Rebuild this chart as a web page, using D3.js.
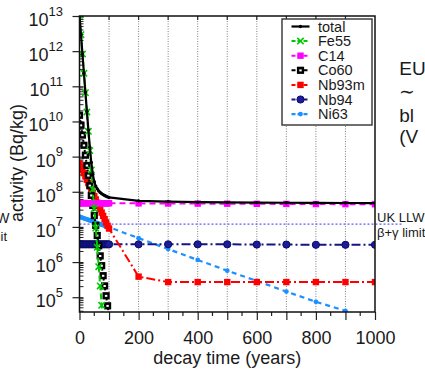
<!DOCTYPE html>
<html>
<head>
<meta charset="utf-8">
<script src="https://cdn.jsdelivr.net/npm/d3@7"></script>
<style>
  body { margin: 0; background: #fff; }
  svg { display: block; font-family: "Liberation Sans", Arial, Helvetica, sans-serif; }
</style>
</head>
<body>
<div id="chart"></div>
<script>
// decay times (years)
const years = [0, 5, 10, 15, 20, 25, 30, 35, 40, 45, 50, 55, 60, 65, 70, 75, 80, 85, 90, 95, 100,
  200, 300, 400, 500, 600, 700, 800, 900, 1000];

// activities (Bq/kg)
const total = [1.05e13, 2.96e12, 8.35e11, 2.36e11, 6.74e10, 1.94e10, 5.78e9, 1.84e9, 6.77e8, 3.16e8, 1.94e8,
  1.45e8, 1.21e8, 1.06e8, 9.59e7, 8.85e7, 8.28e7, 7.82e7, 7.45e7, 7.14e7, 6.92e7,
  5.52e7, 5.23e7, 5.07e7, 4.98e7, 4.92e7, 4.87e7, 4.82e7, 4.79e7, 4.76e7];
const fe55 = [1.05e13, 2.95e12, 8.3e11, 2.34e11, 6.6e10, 1.86e10, 5.25e9, 1.48e9, 4.17e8, 1.17e8, 3.3e7,
  9.3e6, 2.63e6, 7.4e5, 2.09e5, 5.9e4, 1.66e4, 4.7e3, null, null, null,
  null, null, null, null, null, null, null, null, null];
const c14 = [4.75e7, 4.75e7, 4.75e7, 4.75e7, 4.74e7, 4.74e7, 4.74e7, 4.74e7, 4.74e7, 4.74e7, 4.73e7,
  4.73e7, 4.73e7, 4.73e7, 4.73e7, 4.73e7, 4.72e7, 4.72e7, 4.72e7, 4.72e7, 4.72e7,
  4.68e7, 4.65e7, 4.61e7, 4.58e7, 4.54e7, 4.51e7, 4.47e7, 4.44e7, 4.41e7];
const co60 = [1.5e10, 7.8e9, 4.1e9, 2.1e9, 1.1e9, 5.6e8, 2.9e8, 1.5e8, 7.9e7, 4.1e7, 2.1e7,
  1.1e7, 5.7e6, 2.9e6, 1.5e6, 7.9e5, 4.1e5, 2.1e5, 1.1e5, 5.7e4, 2.9e4,
  null, null, null, null, null, null, null, null, null];
const nb93m = [6.46e8, 5.2e8, 4.2e8, 3.38e8, 2.73e8, 2.2e8, 1.77e8, 1.43e8, 1.15e8, 9.3e7, 7.5e7,
  6.04e7, 4.87e7, 3.93e7, 3.16e7, 2.55e7, 2.06e7, 1.66e7, 1.34e7, 1.08e7, 9.0e6,
  3.85e5, 2.7e5, 2.7e5, 2.7e5, 2.7e5, 2.7e5, 2.7e5, 2.7e5, 2.7e5];
const nb94 = [3.2e6, 3.2e6, 3.2e6, 3.2e6, 3.2e6, 3.2e6, 3.2e6, 3.2e6, 3.2e6, 3.2e6, 3.2e6,
  3.2e6, 3.2e6, 3.2e6, 3.2e6, 3.2e6, 3.2e6, 3.2e6, 3.2e6, 3.2e6, 3.2e6,
  3.2e6, 3.2e6, 3.2e6, 3.2e6, 3.15e6, 3.15e6, 3.1e6, 3.1e6, 3.1e6];
const ni63 = [1.95e7, 1.88e7, 1.82e7, 1.76e7, 1.70e7, 1.64e7, 1.58e7, 1.53e7, 1.48e7, 1.43e7, 1.38e7,
  1.33e7, 1.29e7, 1.24e7, 1.20e7, 1.16e7, 1.12e7, 1.08e7, 1.05e7, 1.01e7, 9.8e6,
  4.8e6, 2.35e6, 1.15e6, 5.7e5, 2.9e5, 1.45e5, 7.4e4, 4.1e4, 2.0e4];

const ukLimit = 1.2e7;
const xTickLabels = [0, 200, 400, 600, 800, 1000];
const yTickExps = [5, 6, 7, 8, 9, 10, 11, 12, 13];

const series = [
  { name: 'total', values: total, color: '#000000', dash: null, width: 2.2, marker: 'dot' },
  { name: 'Fe55', values: fe55, color: '#00c800', dash: '6,3', width: 2, marker: 'times' },
  { name: 'C14', values: c14, color: '#ff00ff', dash: '6,4', width: 2, marker: 'square' },
  { name: 'Co60', values: co60, color: '#000000', dash: '2,3', width: 2, marker: 'cosq' },
  { name: 'Nb93m', values: nb93m, color: '#ff0000', dash: '9,3,2,3', width: 2, marker: 'square' },
  { name: 'Nb94', values: nb94, color: '#141488', dash: '9,3,2,3', width: 2, marker: 'circle' },
  { name: 'Ni63', values: ni63, color: '#1e8fff', dash: '5,4', width: 2.2, marker: 'small' }
];

const W = 425, H = 369;
const x = d3.scaleLinear().domain([0, 1000]).range([79.5, 375]);
const y = d3.scaleLog().domain([3.8e4, 1e13]).range([312, 16]);

const svg = d3.select('#chart').append('svg').attr('width', W).attr('height', H);

svg.append('clipPath').attr('id', 'plot-clip')
  .append('rect').attr('x', x(0)).attr('y', y(1e13))
  .attr('width', x(1000) - x(0)).attr('height', y(3.8e4) - y(1e13));

// vertical grid
svg.append('g').selectAll('line').data(d3.range(100, 1000, 100)).enter().append('line')
  .attr('x1', d => x(d)).attr('x2', d => x(d))
  .attr('y1', y(1e13)).attr('y2', y(3.8e4))
  .attr('stroke', '#808080').attr('stroke-width', 1).attr('stroke-dasharray', '1,1.5');

// bottom axis: labelled and minor ticks
const xAxis = d3.axisBottom(x).tickValues(d3.range(0, 1001, 100)).tickSize(8).tickPadding(11)
  .tickFormat(d => xTickLabels.includes(d) ? d : '');
const gx = svg.append('g').attr('transform', 'translate(0,' + y(3.8e4) + ')').call(xAxis);
gx.select('.domain').remove();
gx.selectAll('.tick line').attr('stroke', '#222').attr('stroke-width', 1.2);
gx.selectAll('.tick text').attr('font-size', 18).attr('fill', '#1a1a1a').attr('font-family', null);

svg.append('g').selectAll('line').data(d3.range(50, 1000, 100)).enter().append('line')
  .attr('x1', d => x(d)).attr('x2', d => x(d))
  .attr('y1', y(3.8e4)).attr('y2', y(3.8e4) + 4)
  .attr('stroke', '#222').attr('stroke-width', 1.2);

// top ticks
svg.append('g').selectAll('line').data(d3.range(100, 1000, 100)).enter().append('line')
  .attr('x1', d => x(d)).attr('x2', d => x(d))
  .attr('y1', y(1e13)).attr('y2', y(1e13) + 4)
  .attr('stroke', '#222').attr('stroke-width', 1.2);

// left axis with 10^n labels
const yAxis = d3.axisLeft(y).tickValues(yTickExps.map(e => Math.pow(10, e))).tickSize(7).tickPadding(9.5)
  .tickFormat('');
const gy = svg.append('g').attr('transform', 'translate(' + x(0) + ',0)').call(yAxis);
gy.select('.domain').remove();
gy.selectAll('.tick line').attr('stroke', '#222').attr('stroke-width', 1.2).attr('x2', 4).attr('x1', -7);
gy.selectAll('.tick text')
  .attr('font-size', 18).attr('fill', '#1a1a1a').attr('font-family', null)
  .attr('dy', 9.5)
  .each(function(d) {
    const t = d3.select(this);
    t.append('tspan').text('10');
    t.append('tspan').attr('dy', -10.5).attr('font-size', 13).text(Math.round(Math.log10(d)));
  });

// minor log ticks
const minor = [];
for (let e = 4; e <= 12; e++) {
  for (let m = 2; m <= 9; m++) {
    const v = m * Math.pow(10, e);
    if (v >= 3.8e4 && v < 1e13) minor.push(v);
  }
}
svg.append('g').selectAll('line').data(minor).enter().append('line')
  .attr('x1', x(0)).attr('x2', x(0) + 4)
  .attr('y1', d => y(d)).attr('y2', d => y(d))
  .attr('stroke', '#222').attr('stroke-width', 1);

// UK LLW limit line
svg.append('line')
  .attr('x1', x(0)).attr('x2', 403)
  .attr('y1', y(ukLimit)).attr('y2', y(ukLimit))
  .attr('stroke', '#5a5aff').attr('stroke-width', 1.4).attr('stroke-dasharray', '2,2');

function drawMarker(g, type, cx, cy, color) {
  if (type === 'dot') {
    g.append('circle').attr('cx', cx).attr('cy', cy).attr('r', 1.7).attr('fill', color);
  } else if (type === 'times') {
    g.append('path').attr('d', d3.symbol(d3.symbolTimes, 28)())
      .attr('transform', 'translate(' + cx + ',' + cy + ')')
      .attr('fill', 'none').attr('stroke', color).attr('stroke-width', 1.6);
  } else if (type === 'square') {
    g.append('rect').attr('x', cx - 3.2).attr('y', cy - 3.2).attr('width', 6.4).attr('height', 6.4).attr('fill', color);
  } else if (type === 'cosq') {
    g.append('rect').attr('x', cx - 3.6).attr('y', cy - 3.6).attr('width', 7.2).attr('height', 7.2).attr('fill', color);
    g.append('rect').attr('x', cx - 1.2).attr('y', cy - 0.9).attr('width', 2.4).attr('height', 2).attr('fill', '#fff');
  } else if (type === 'circle') {
    g.append('circle').attr('cx', cx).attr('cy', cy).attr('r', 3.6)
      .attr('fill', '#1c1c9a').attr('stroke', '#0a0a66').attr('stroke-width', 1);
  } else if (type === 'small') {
    g.append('circle').attr('cx', cx).attr('cy', cy).attr('r', 2.4).attr('fill', color);
  }
}

const line = d3.line()
  .defined(d => d.v != null)
  .x(d => x(d.t))
  .y(d => y(d.v));

const plot = svg.append('g').attr('clip-path', 'url(#plot-clip)');
// draw back to front: last legend entries below
series.slice().reverse().forEach(s => {
  const pts = years.map((t, i) => ({ t: t, v: s.values[i] }));
  plot.append('path').datum(pts)
    .attr('d', line)
    .attr('fill', 'none').attr('stroke', s.color).attr('stroke-width', s.width)
    .attr('stroke-dasharray', s.dash);
  const mg = plot.append('g');
  pts.filter(p => p.v != null).forEach(p => drawMarker(mg, s.marker, x(p.t), y(p.v), s.color));
});

// frame
svg.append('rect').attr('x', x(0)).attr('y', y(1e13))
  .attr('width', x(1000) - x(0)).attr('height', y(3.8e4) - y(1e13))
  .attr('fill', 'none').attr('stroke', '#111').attr('stroke-width', 1.5);

// legend
const legend = svg.append('g');
legend.append('rect').attr('x', 282).attr('y', 19).attr('width', 90).attr('height', 106)
  .attr('fill', '#fff').attr('stroke', '#333').attr('stroke-width', 1.4);
series.forEach((s, i) => {
  const ly = 26.5 + i * 14.6;
  legend.append('line').attr('x1', 291.5).attr('x2', 309.5).attr('y1', ly).attr('y2', ly)
    .attr('stroke', s.color).attr('stroke-width', s.width).attr('stroke-dasharray', s.dash ? '4,2' : null);
  drawMarker(legend, s.marker, 300.5, ly, s.color);
  legend.append('text').attr('x', 318).attr('y', ly + 5).attr('font-size', 14.5).attr('fill', '#1a1a1a').text(s.name);
});

// axis titles
svg.append('text').attr('x', x(500)).attr('y', 364).attr('text-anchor', 'middle')
  .attr('font-size', 18).attr('fill', '#1a1a1a').text('decay time (years)');
svg.append('text').attr('transform', 'translate(23,163) rotate(-90)').attr('text-anchor', 'middle')
  .attr('font-size', 18).attr('fill', '#1a1a1a').text('activity (Bq/kg)');

// limit annotations (right and cut-off left copy)
svg.append('text').attr('x', 377).attr('y', 221.7).attr('font-size', 13).attr('fill', '#1a1a1a').text('UK LLW');
svg.append('text').attr('x', 377).attr('y', 237).attr('font-size', 13).attr('fill', '#1a1a1a').text('β+γ limit');
svg.append('text').attr('x', 9.5).attr('y', 223).attr('text-anchor', 'end').attr('font-size', 14).attr('fill', '#1a1a1a').text('UK LLW');
svg.append('text').attr('x', 7).attr('y', 241).attr('text-anchor', 'end').attr('font-size', 13).attr('fill', '#1a1a1a').text('β+γ limit');

// slide text cut at the right edge
const side = ['EU', '∼', 'bl', '(V'];
const sideY = [75, 98, 121.7, 143];
side.forEach((s, i) => {
  svg.append('text').attr('x', 399.3).attr('y', sideY[i]).attr('font-size', 19).attr('fill', '#1a1a1a').text(s);
});
</script>
</body>
</html>
